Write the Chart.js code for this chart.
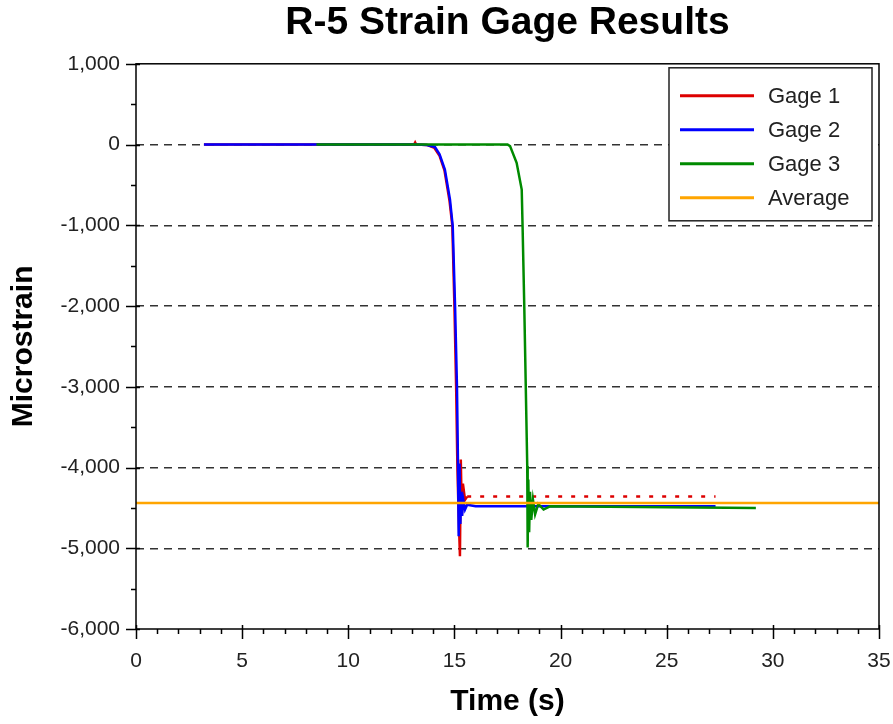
<!DOCTYPE html>
<html>
<head>
<meta charset="utf-8">
<script src="https://cdn.jsdelivr.net/npm/chart.js@4/dist/chart.umd.min.js"></script>
<style>
  html, body { margin: 0; padding: 0; background: #fff; }
  canvas { display: block; }
</style>
</head>
<body>
<canvas id="c" width="893" height="724"></canvas>
<script>
// ---------- Data ----------
const chartTitle = "R-5 Strain Gage Results";
const xTitle = "Time (s)";
const yTitle = "Microstrain";
const seriesNames = ["Gage 1", "Gage 2", "Gage 3", "Average"];

const gage1Time   = [3.2, 13.1, 13.15, 13.2, 13.7, 14.05, 14.3, 14.53, 14.77, 14.9, 15.0, 15.08, 15.14, 15.2, 15.26, 15.3, 15.35, 15.4, 15.5, 15.6, 27.3];
const gage1Values = [0, 0, 25, 0, -5, -40, -140, -320, -700, -1000, -2000, -3000, -4000, -4600, -5100, -3900, -4600, -4200, -4400, -4360, -4360];

const gage2Time   = [3.2, 13.2, 13.7, 14.08, 14.3, 14.55, 14.79, 14.92, 15.03, 15.12, 15.17, 15.2, 15.24, 15.28, 15.32, 15.36, 15.42, 15.5, 15.6, 16.0, 27.3];
const gage2Values = [0, 0, -5, -30, -120, -310, -680, -1010, -2000, -3000, -4000, -4850, -3950, -4700, -4300, -4600, -4400, -4520, -4460, -4480, -4480];

const gage3Time   = [8.5, 17.5, 17.62, 17.93, 18.17, 18.21, 18.29, 18.36, 18.43, 18.45, 18.48, 18.52, 18.56, 18.62, 18.7, 18.8, 18.95, 19.2, 19.5, 29.2];
const gage3Values = [0, 0, -20, -227, -557, -1010, -2000, -2990, -3980, -4990, -4150, -4800, -4300, -4650, -4400, -4580, -4450, -4520, -4480, -4500];

const averageTime   = [0, 35];
const averageValues = [-4440, -4440];

const xTicks = [0, 5, 10, 15, 20, 25, 30, 35];
const yTicks = [1000, 0, -1000, -2000, -3000, -4000, -5000, -6000];

const colors = ["#dd0000", "#0000ff", "#008a00", "#ffa500"];
const drawOrder = [3, 2, 1, 0]; // lower = drawn on top

// ---------- Build ----------
const toPts = (xs, ys) => xs.map((x, i) => ({ x: x, y: ys[i] }));
const FONT = "'Liberation Sans', Arial, Helvetica, sans-serif";

const frame = {
  id: 'frame',
  afterDatasetsDraw(chart) {
    const { ctx, chartArea: a, scales } = chart;
    const xs = scales.x, ys = scales.y;
    ctx.save();
    ctx.strokeStyle = '#000';
    ctx.lineWidth = 1.5;
    ctx.setLineDash([]);
    ctx.strokeRect(a.left, a.top, a.right - a.left, a.bottom - a.top);
    ctx.beginPath();
    for (let v = xTicks[0]; v <= xTicks[xTicks.length - 1] + 1e-9; v += 1) {
      const px = Math.round(xs.getPixelForValue(v)) + 0.5;
      const major = xTicks.includes(v);
      ctx.moveTo(px, a.bottom - (major ? 4 : 0));
      ctx.lineTo(px, a.bottom + (major ? 10 : 5));
    }
    for (let v = -6000; v <= 1000; v += 500) {
      const py = Math.round(ys.getPixelForValue(v)) + 0.5;
      const major = yTicks.includes(v);
      ctx.moveTo(a.left + (major ? 4 : 0), py);
      ctx.lineTo(a.left - (major ? 10 : 5), py);
    }
    ctx.stroke();
    ctx.restore();
  },
  afterDraw(chart) {
    const { ctx, chartArea: a } = chart;
    ctx.save();
    const bx = a.right - 210, by = a.top + 4, bw = 203, bh = 153;
    ctx.fillStyle = '#fff';
    ctx.fillRect(bx, by, bw, bh);
    ctx.strokeStyle = '#222';
    ctx.lineWidth = 1.5;
    ctx.strokeRect(bx, by, bw, bh);
    ctx.font = "22px " + FONT;
    ctx.textBaseline = 'middle';
    ctx.textAlign = 'left';
    chart.data.datasets.forEach((ds, i) => {
      const y = by + 28 + i * 34;
      ctx.strokeStyle = ds.borderColor;
      ctx.lineWidth = 3;
      ctx.beginPath();
      ctx.moveTo(bx + 11, y);
      ctx.lineTo(bx + 85, y);
      ctx.stroke();
      ctx.fillStyle = '#222';
      ctx.fillText(ds.label, bx + 99, y + 1);
    });
    ctx.restore();
  }
};

new Chart(document.getElementById('c'), {
  type: 'scatter',
  data: {
    datasets: [
      { label: seriesNames[0], data: toPts(gage1Time, gage1Values), borderColor: colors[0], backgroundColor: colors[0], order: drawOrder[0],
        segment: { borderDash: c => c.p0.parsed.x >= 15.6 ? [4, 9] : undefined } },
      { label: seriesNames[1], data: toPts(gage2Time, gage2Values), borderColor: colors[1], backgroundColor: colors[1], order: drawOrder[1] },
      { label: seriesNames[2], data: toPts(gage3Time, gage3Values), borderColor: colors[2], backgroundColor: colors[2], order: drawOrder[2] },
      { label: seriesNames[3], data: toPts(averageTime, averageValues), borderColor: colors[3], backgroundColor: colors[3], order: drawOrder[3] }
    ].map(d => Object.assign({ showLine: true, pointRadius: 0, borderWidth: 2.5, tension: 0 }, d))
  },
  options: {
    responsive: false,
    animation: false,
    layout: { padding: { left: 0, right: 14, top: 0, bottom: 0 } },
    plugins: {
      legend: { display: false },
      tooltip: { enabled: false },
      title: {
        display: true, text: chartTitle, fullSize: false, color: '#000',
        font: { family: FONT, size: 39, weight: 'bold' },
        padding: { top: 0, bottom: 17 }
      }
    },
    scales: {
      x: {
        type: 'linear', min: 0, max: 35,
        afterFit: s => { s.height = 95; s.paddingRight = 0; s.paddingLeft = 0; },
        ticks: { stepSize: 5, color: '#222', padding: 20, font: { family: FONT, size: 21 }, maxRotation: 0 },
        grid: { display: false, drawTicks: false },
        border: { display: false },
        title: { display: true, text: xTitle, color: '#000', font: { family: FONT, size: 30, weight: 'bold' }, padding: { top: 4, bottom: 4 } }
      },
      y: {
        type: 'linear', min: -6000, max: 1000,
        afterFit: s => { s.width = 136; s.paddingTop = 0; s.paddingBottom = 0; },
        ticks: { stepSize: 1000, color: '#222', padding: 16, font: { family: FONT, size: 21 },
          callback: v => Number(v).toLocaleString('en-US') },
        grid: { drawTicks: false, lineWidth: 1.5,
          color: c => (c.tick && (c.tick.value === 1000 || c.tick.value === -6000)) ? 'rgba(0,0,0,0)' : '#333' },
        border: { display: false, dash: [8, 6] },
        title: { display: true, text: yTitle, color: '#000', font: { family: FONT, size: 30, weight: 'bold' }, padding: { top: 6, bottom: 6 } }
      }
    }
  },
  plugins: [frame]
});
</script>
</body>
</html>
